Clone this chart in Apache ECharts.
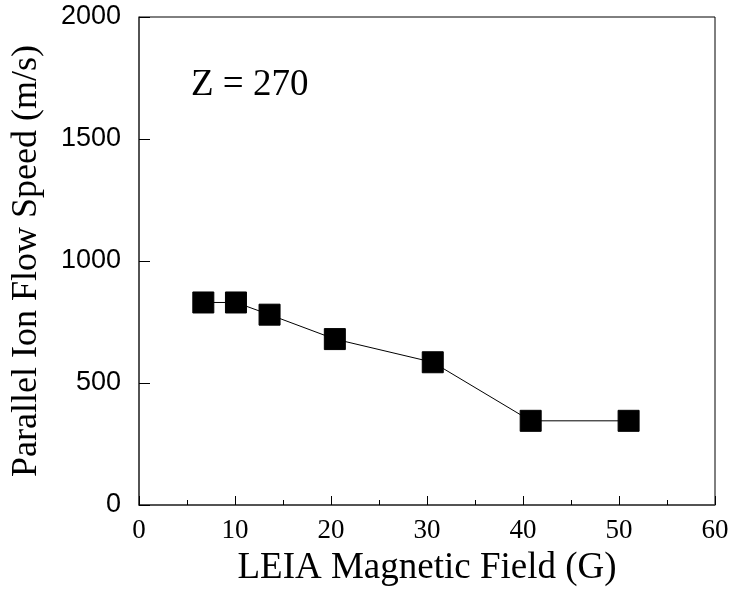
<!DOCTYPE html>
<html>
<head>
<meta charset="utf-8">
<script src="https://cdn.jsdelivr.net/npm/echarts@6/dist/echarts.min.js"></script>
<style>
  html, body { margin: 0; padding: 0; background: #fff; }
  #chart { width: 732px; height: 592px; }
</style>
</head>
<body>
<div id="chart"></div>
<script>
// LEIA magnetic field (G) vs. parallel ion flow speed (m/s) at Z = 270
const fieldG = [6.7, 10.1, 13.6, 20.4, 30.6, 40.8, 51.0];
const flowSpeed = [830, 830, 780, 680, 585, 345, 345];
const xTickStep = 10;
const yTickStep = 500;
const annotation = 'Z = 270';

const serif = '"Liberation Serif", "Times New Roman", serif';
const sans = '"Liberation Sans", Arial, sans-serif';

const chart = echarts.init(document.getElementById('chart'), null, { renderer: 'canvas' });

chart.setOption({
  animation: false,
  backgroundColor: '#ffffff',
  title: {
    text: annotation,
    left: 186,
    top: 62,
    textStyle: { fontFamily: serif, fontSize: 37, fontWeight: 'normal', color: '#000' }
  },
  grid: {
    left: 139, right: 17, top: 17, bottom: 87,
    show: true, borderColor: '#000', borderWidth: 1, backgroundColor: 'transparent'
  },
  xAxis: {
    type: 'value',
    min: 0, max: 60, interval: xTickStep,
    name: 'LEIA Magnetic Field (G)',
    nameLocation: 'middle',
    nameGap: 45,
    nameTextStyle: { fontFamily: serif, fontSize: 37, color: '#000' },
    axisLine: { show: true, lineStyle: { color: '#444', width: 1.5 } },
    axisTick: { show: true, inside: true, length: 9, lineStyle: { color: '#000', width: 1 } },
    minorTick: { show: true, splitNumber: 2, length: 5, lineStyle: { color: '#000', width: 1 } },
    axisLabel: { fontFamily: serif, fontSize: 27, color: '#000', margin: 12 },
    splitLine: { show: false }
  },
  yAxis: {
    type: 'value',
    min: 0, max: 2000, interval: yTickStep,
    name: 'Parallel Ion Flow Speed (m/s)',
    nameLocation: 'middle',
    nameGap: 94,
    nameTextStyle: { fontFamily: serif, fontSize: 36, color: '#000' },
    axisLine: { show: true, lineStyle: { color: '#444', width: 1.5 } },
    axisTick: { show: true, inside: true, length: 11, lineStyle: { color: '#000', width: 1 } },
    axisLabel: {
      fontFamily: sans, fontSize: 27, color: '#000', margin: 18,
      formatter: v => String(v)
    },
    splitLine: { show: false }
  },
  series: [{
    type: 'line',
    data: fieldG.map((x, i) => [x, flowSpeed[i]]),
    symbol: 'rect',
    symbolSize: 21,
    showSymbol: true,
    lineStyle: { color: '#000', width: 1 },
    itemStyle: { color: '#000', borderColor: '#000' },
    clip: false,
    z: 3
  }]
});
</script>
</body>
</html>
